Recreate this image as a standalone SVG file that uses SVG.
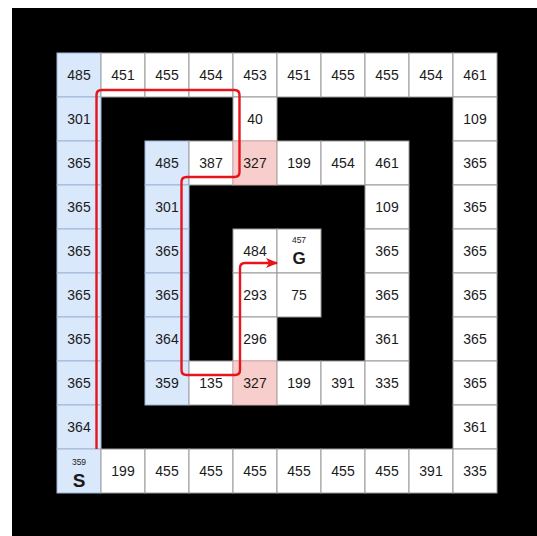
<svg xmlns="http://www.w3.org/2000/svg" width="537" height="536" viewBox="0 0 537 536">
<defs>
<style>
.w{fill:#ffffff;stroke:#999999;stroke-width:1}
.b{fill:#dae8fc;stroke:#9db3d5;stroke-width:1}
.p{fill:#f8cecc;stroke:#d8a8a8;stroke-width:1}
text{font-family:"Liberation Sans",Arial,sans-serif;fill:#1a1a1a;text-anchor:middle}
.n{font-size:14px}
.s{font-size:8.5px}
.L{font-size:17px;font-weight:bold}
.LS{font-size:19px;font-weight:bold}
.path{fill:none;stroke:#e8141b;stroke-width:2.4;stroke-linejoin:round}
</style>
<marker id="ah" viewBox="0 0 12 10" refX="11" refY="5" markerWidth="12" markerHeight="10" markerUnits="userSpaceOnUse" orient="auto">
<path d="M0,0 L12,5 L0,10 L3,5 Z" fill="#e8141b"/>
</marker>
</defs>
<rect x="0" y="0" width="537" height="536" fill="#ffffff"/>
<rect x="12" y="8" width="525" height="528" fill="#000000"/>

<g id="r0c0"><rect class="b" x="57" y="53" width="44" height="44"/><text class="n" x="79" y="80">485</text></g>
<g id="r0c1"><rect class="w" x="101" y="53" width="44" height="44"/><text class="n" x="123" y="80">451</text></g>
<g id="r0c2"><rect class="w" x="145" y="53" width="44" height="44"/><text class="n" x="167" y="80">455</text></g>
<g id="r0c3"><rect class="w" x="189" y="53" width="44" height="44"/><text class="n" x="211" y="80">454</text></g>
<g id="r0c4"><rect class="w" x="233" y="53" width="44" height="44"/><text class="n" x="255" y="80">453</text></g>
<g id="r0c5"><rect class="w" x="277" y="53" width="44" height="44"/><text class="n" x="299" y="80">451</text></g>
<g id="r0c6"><rect class="w" x="321" y="53" width="44" height="44"/><text class="n" x="343" y="80">455</text></g>
<g id="r0c7"><rect class="w" x="365" y="53" width="44" height="44"/><text class="n" x="387" y="80">455</text></g>
<g id="r0c8"><rect class="w" x="409" y="53" width="44" height="44"/><text class="n" x="431" y="80">454</text></g>
<g id="r0c9"><rect class="w" x="453" y="53" width="44" height="44"/><text class="n" x="475" y="80">461</text></g>

<g id="r1c0"><rect class="b" x="57" y="97" width="44" height="44"/><text class="n" x="79" y="124">301</text></g>
<g id="r1c4"><rect class="w" x="233" y="97" width="44" height="44"/><text class="n" x="255" y="124">40</text></g>
<g id="r1c9"><rect class="w" x="453" y="97" width="44" height="44"/><text class="n" x="475" y="124">109</text></g>

<g id="r2c0"><rect class="b" x="57" y="141" width="44" height="44"/><text class="n" x="79" y="168">365</text></g>
<g id="r2c2"><rect class="b" x="145" y="141" width="44" height="44"/><text class="n" x="167" y="168">485</text></g>
<g id="r2c3"><rect class="w" x="189" y="141" width="44" height="44"/><text class="n" x="211" y="168">387</text></g>
<g id="r2c4"><rect class="p" x="233" y="141" width="44" height="44"/><text class="n" x="255" y="168">327</text></g>
<g id="r2c5"><rect class="w" x="277" y="141" width="44" height="44"/><text class="n" x="299" y="168">199</text></g>
<g id="r2c6"><rect class="w" x="321" y="141" width="44" height="44"/><text class="n" x="343" y="168">454</text></g>
<g id="r2c7"><rect class="w" x="365" y="141" width="44" height="44"/><text class="n" x="387" y="168">461</text></g>
<g id="r2c9"><rect class="w" x="453" y="141" width="44" height="44"/><text class="n" x="475" y="168">365</text></g>

<g id="r3c0"><rect class="b" x="57" y="185" width="44" height="44"/><text class="n" x="79" y="212">365</text></g>
<g id="r3c2"><rect class="b" x="145" y="185" width="44" height="44"/><text class="n" x="167" y="212">301</text></g>
<g id="r3c7"><rect class="w" x="365" y="185" width="44" height="44"/><text class="n" x="387" y="212">109</text></g>
<g id="r3c9"><rect class="w" x="453" y="185" width="44" height="44"/><text class="n" x="475" y="212">365</text></g>

<g id="r4c0"><rect class="b" x="57" y="229" width="44" height="44"/><text class="n" x="79" y="256">365</text></g>
<g id="r4c2"><rect class="b" x="145" y="229" width="44" height="44"/><text class="n" x="167" y="256">365</text></g>
<g id="r4c4"><rect class="w" x="233" y="229" width="44" height="44"/><text class="n" x="255" y="256">484</text></g>
<g id="goal"><rect class="w" x="277" y="229" width="44" height="44"/><text class="s" x="299" y="242.5">457</text><text class="L" x="299" y="263.5">G</text></g>
<g id="r4c7"><rect class="w" x="365" y="229" width="44" height="44"/><text class="n" x="387" y="256">365</text></g>
<g id="r4c9"><rect class="w" x="453" y="229" width="44" height="44"/><text class="n" x="475" y="256">365</text></g>

<g id="r5c0"><rect class="b" x="57" y="273" width="44" height="44"/><text class="n" x="79" y="300">365</text></g>
<g id="r5c2"><rect class="b" x="145" y="273" width="44" height="44"/><text class="n" x="167" y="300">365</text></g>
<g id="r5c4"><rect class="w" x="233" y="273" width="44" height="44"/><text class="n" x="255" y="300">293</text></g>
<g id="r5c5"><rect class="w" x="277" y="273" width="44" height="44"/><text class="n" x="299" y="300">75</text></g>
<g id="r5c7"><rect class="w" x="365" y="273" width="44" height="44"/><text class="n" x="387" y="300">365</text></g>
<g id="r5c9"><rect class="w" x="453" y="273" width="44" height="44"/><text class="n" x="475" y="300">365</text></g>

<g id="r6c0"><rect class="b" x="57" y="317" width="44" height="44"/><text class="n" x="79" y="344">365</text></g>
<g id="r6c2"><rect class="b" x="145" y="317" width="44" height="44"/><text class="n" x="167" y="344">364</text></g>
<g id="r6c4"><rect class="w" x="233" y="317" width="44" height="44"/><text class="n" x="255" y="344">296</text></g>
<g id="r6c7"><rect class="w" x="365" y="317" width="44" height="44"/><text class="n" x="387" y="344">361</text></g>
<g id="r6c9"><rect class="w" x="453" y="317" width="44" height="44"/><text class="n" x="475" y="344">365</text></g>

<g id="r7c0"><rect class="b" x="57" y="361" width="44" height="44"/><text class="n" x="79" y="388">365</text></g>
<g id="r7c2"><rect class="b" x="145" y="361" width="44" height="44"/><text class="n" x="167" y="388">359</text></g>
<g id="r7c3"><rect class="w" x="189" y="361" width="44" height="44"/><text class="n" x="211" y="388">135</text></g>
<g id="r7c4"><rect class="p" x="233" y="361" width="44" height="44"/><text class="n" x="255" y="388">327</text></g>
<g id="r7c5"><rect class="w" x="277" y="361" width="44" height="44"/><text class="n" x="299" y="388">199</text></g>
<g id="r7c6"><rect class="w" x="321" y="361" width="44" height="44"/><text class="n" x="343" y="388">391</text></g>
<g id="r7c7"><rect class="w" x="365" y="361" width="44" height="44"/><text class="n" x="387" y="388">335</text></g>
<g id="r7c9"><rect class="w" x="453" y="361" width="44" height="44"/><text class="n" x="475" y="388">365</text></g>

<g id="r8c0"><rect class="b" x="57" y="405" width="44" height="44"/><text class="n" x="79" y="432">364</text></g>
<g id="r8c9"><rect class="w" x="453" y="405" width="44" height="44"/><text class="n" x="475" y="432">361</text></g>

<g id="start"><rect class="b" x="57" y="449" width="44" height="44"/><text class="s" x="79" y="465">359</text><text class="LS" x="79" y="487">S</text></g>
<g id="r9c1"><rect class="w" x="101" y="449" width="44" height="44"/><text class="n" x="123" y="476">199</text></g>
<g id="r9c2"><rect class="w" x="145" y="449" width="44" height="44"/><text class="n" x="167" y="476">455</text></g>
<g id="r9c3"><rect class="w" x="189" y="449" width="44" height="44"/><text class="n" x="211" y="476">455</text></g>
<g id="r9c4"><rect class="w" x="233" y="449" width="44" height="44"/><text class="n" x="255" y="476">455</text></g>
<g id="r9c5"><rect class="w" x="277" y="449" width="44" height="44"/><text class="n" x="299" y="476">455</text></g>
<g id="r9c6"><rect class="w" x="321" y="449" width="44" height="44"/><text class="n" x="343" y="476">455</text></g>
<g id="r9c7"><rect class="w" x="365" y="449" width="44" height="44"/><text class="n" x="387" y="476">455</text></g>
<g id="r9c8"><rect class="w" x="409" y="449" width="44" height="44"/><text class="n" x="431" y="476">391</text></g>
<g id="r9c9"><rect class="w" x="453" y="449" width="44" height="44"/><text class="n" x="475" y="476">335</text></g>

<g id="connectors">
<path class="path" marker-end="url(#ah)" d="M96.5,449 V95 Q96.5,90 101.5,90 H234.5 Q239.5,90 239.5,95 V172 Q239.5,177 234.5,177 H186.5 Q181.5,177 181.5,182 V370 Q181.5,375 186.5,375 H235 Q240,375 240,370 V268 Q240,263 245,263 H277"/>
</g>
</svg>
